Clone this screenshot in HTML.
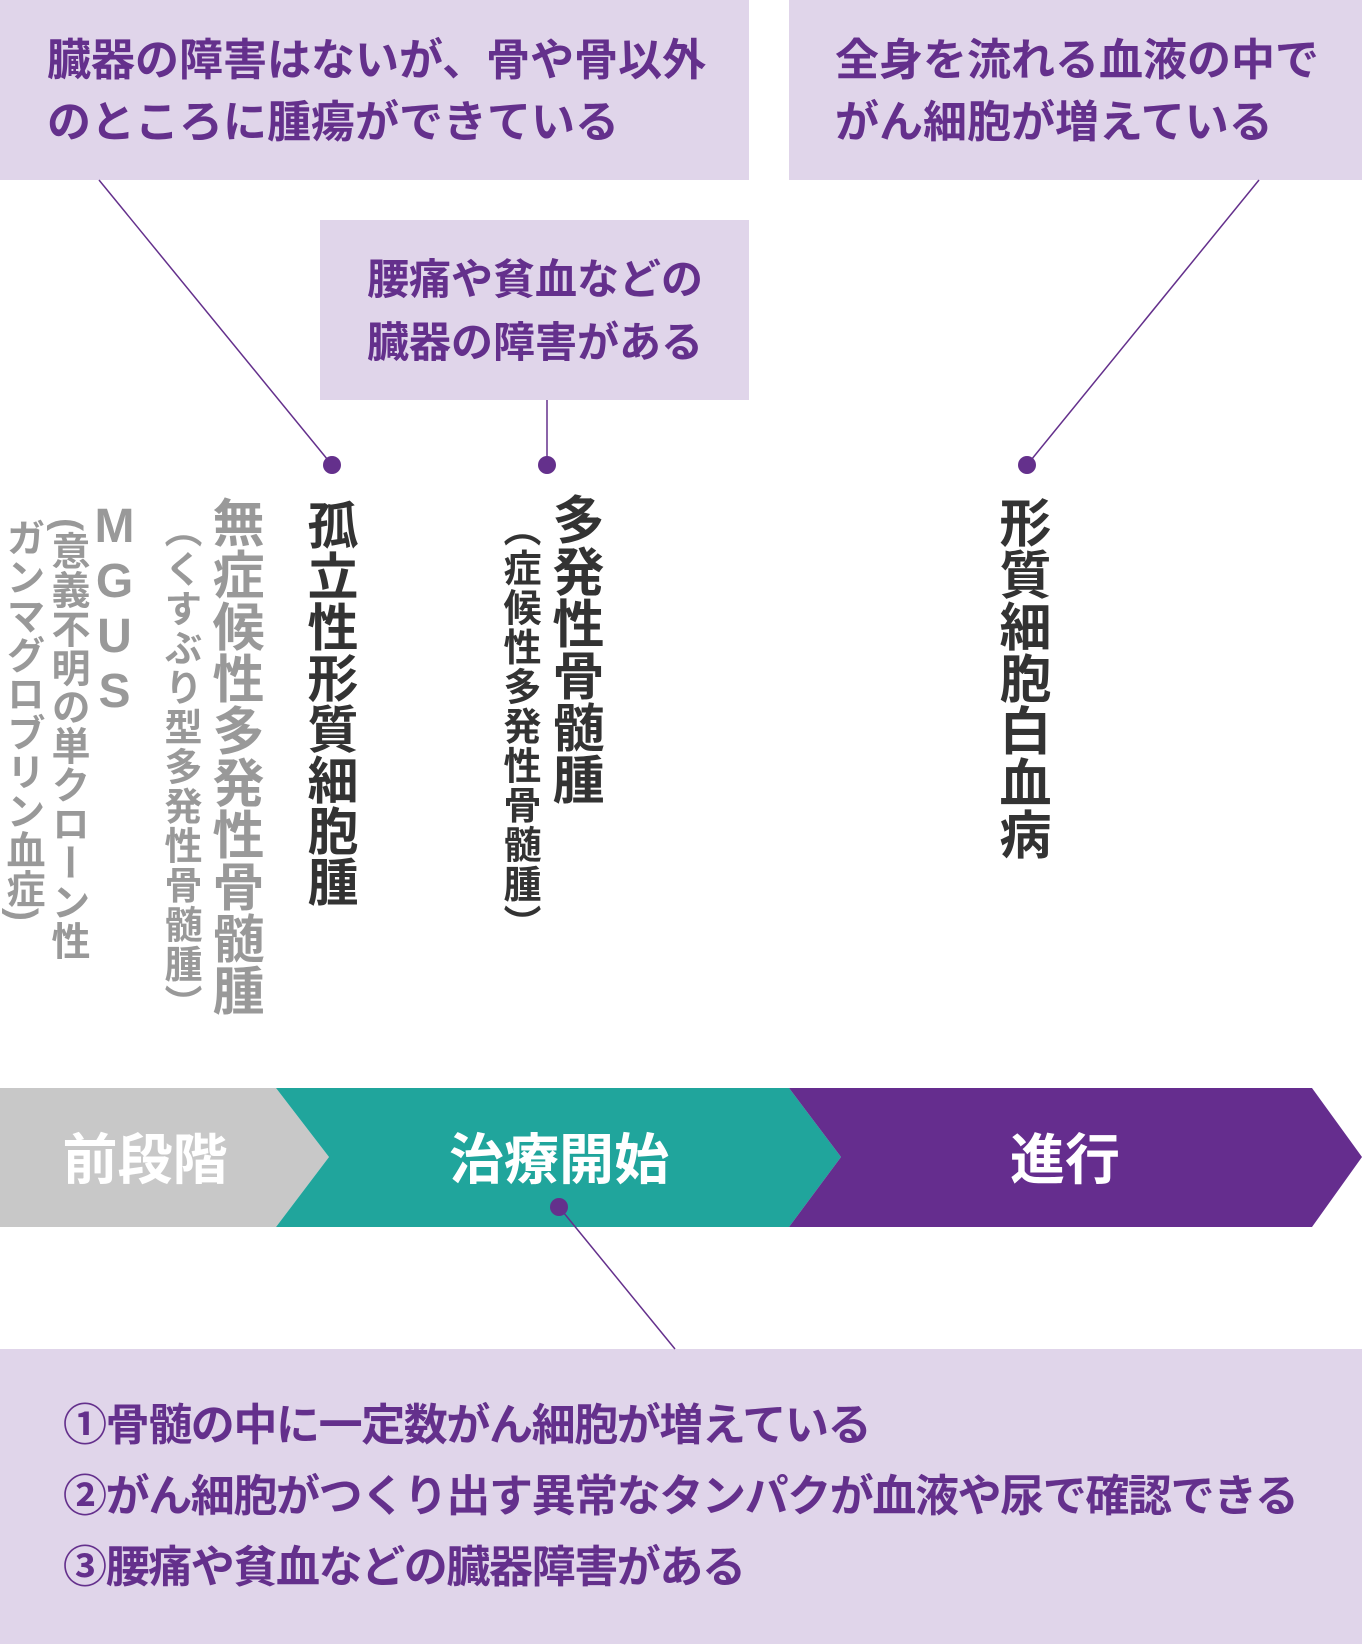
<!DOCTYPE html>
<html><head><meta charset="utf-8"><style>
html,body{margin:0;padding:0;background:#fff;}
body{width:1362px;height:1644px;position:relative;overflow:hidden;font-family:"Liberation Sans","Noto Sans CJK JP",sans-serif;font-weight:700;}
.box{position:absolute;background:#e0d5ea;}
.t{position:absolute;color:#64308c;white-space:nowrap;}
.v{position:absolute;writing-mode:vertical-rl;white-space:nowrap;line-height:1;}
svg{position:absolute;left:0;top:0;}
</style></head><body>
<div class="box" style="left:0;top:0;width:749px;height:180px"></div>
<div class="box" style="left:789px;top:0;width:573px;height:180px"></div>
<div class="box" style="left:320px;top:220px;width:429px;height:180px"></div>
<div class="box" style="left:0;top:1349px;width:1362px;height:295px"></div>

<svg width="1362" height="1644">
<polygon points="0,1088 276,1088 329,1157 276,1227 0,1227" fill="#c8c8c8"/>
<polygon points="276,1088 789,1088 841,1157 789,1227 276,1227 329,1157" fill="#20a59c"/>
<polygon points="789,1088 1312,1088 1362,1157 1312,1227 789,1227 841,1157" fill="#652d8e"/>
<g stroke="#64308c" stroke-width="1.5">
<line x1="99" y1="180" x2="332" y2="465"/>
<line x1="547" y1="400" x2="547" y2="465"/>
<line x1="1259" y1="180" x2="1027" y2="465"/>
<line x1="559" y1="1207" x2="675" y2="1349"/>
</g>
<g fill="#64308c">
<circle cx="332" cy="465" r="9"/><circle cx="547" cy="465" r="9"/><circle cx="1027" cy="465" r="9"/><circle cx="559" cy="1207" r="9"/>
</g>
</svg>

<div class="t" style="left:47px;top:30px;font-size:44px;line-height:62px">臓器の障害はないが、骨や骨以外<br>のところに腫瘍ができている</div>
<div class="t" style="left:835px;top:30px;font-size:44px;line-height:62px">全身を流れる血液の中で<br>がん細胞が増えている</div>
<div class="t" style="left:367px;top:248px;font-size:42px;line-height:63px">腰痛や貧血などの<br>臓器の障害がある</div>

<div class="t" style="left:63px;top:1390px;font-size:44px;line-height:71px;letter-spacing:-1.4px">①骨髄の中に一定数がん細胞が増えている<br>②がん細胞がつくり出す異常なタンパクが血液や尿で確認できる<br>③腰痛や貧血などの臓器障害がある</div>

<div class="t" style="left:145px;top:1128px;font-size:55px;line-height:64px;color:#fff;transform:translateX(-50%)">前段階</div>
<div class="t" style="left:559px;top:1128px;font-size:55px;line-height:64px;color:#fff;transform:translateX(-50%)">治療開始</div>
<div class="t" style="left:1065px;top:1128px;font-size:55px;line-height:64px;color:#fff;transform:translateX(-50%)">進行</div>

<div class="v" style="left:303px;top:499px;font-size:51px;color:#333">孤立性形質細胞腫</div>
<div class="v" style="left:547px;top:493px;font-size:52px;color:#333">多発性骨髄腫</div>
<div class="v" style="left:499px;top:509px;font-size:38px;letter-spacing:1.5px;color:#333">（症候性多発性骨髄腫）</div>
<div class="v" style="left:994px;top:496px;font-size:52px;color:#333">形質細胞白血病</div>
<div class="v" style="left:207px;top:496px;font-size:52px;color:#999">無症候性多発性骨髄腫</div>
<div class="v" style="left:160px;top:510px;font-size:38px;letter-spacing:1.5px;color:#999">（くすぶり型多発性骨髄腫）</div>
<div class="v" style="left:90px;top:500px;font-size:48px;color:#999;text-orientation:upright;letter-spacing:2px;font-family:'Liberation Sans',sans-serif">MGUS</div>
<div class="v" style="left:0px;top:518px;font-size:39px;line-height:45px;color:#999;width:90px">(意義不明の単クローン性<br>ガンマグロブリン血症)</div>
</body></html>
